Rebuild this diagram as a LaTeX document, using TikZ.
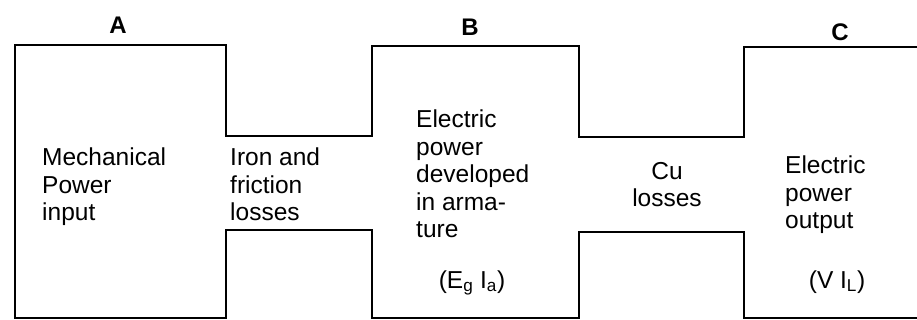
\documentclass[tikz,border=0pt]{standalone}
\usepackage{fontspec}
\setmainfont{Liberation Sans}
\begin{document}
\begin{tikzpicture}[x=1pt,y=-1pt,
  outline/.style={line width=2.8pt,line join=miter},
  blocktext/.style={anchor=north west,inner sep=0pt,align=left,font=\fontsize{24.5}{27.5}\selectfont},
  ctext/.style={anchor=north,inner sep=0pt,align=center,font=\fontsize{24.5}{27.5}\selectfont},
  letter/.style={inner sep=0pt,font=\fontsize{24}{28}\selectfont\bfseries}]
\useasboundingbox (0,0) rectangle (917,320);
\draw[outline] (917,47) -- (744,47) -- (744,137) -- (579,137) -- (579,46) -- (372,46)
  -- (372,136) -- (226,136) -- (226,45) -- (15,45) -- (15,318) -- (226,318)
  -- (226,230) -- (372,230) -- (372,318) -- (579,318) -- (579,232) -- (744,232)
  -- (744,318) -- (917,318);
\node[letter] (la) at (118,25) {A};
\node[letter] (lb) at (470,27) {B};
\node[letter] (lc) at (840,32) {C};
\node[blocktext] (mech) at (42,148) {Mechanical\\Power\\input};
\node[blocktext] (iron) at (230,148) {Iron and\\friction\\losses};
\node[blocktext] (elec) at (416,110) {Electric\\power\\developed\\in arma-\\ture};
\node[ctext] (cu) at (667,162) {Cu\\losses};
\node[blocktext] (out) at (785,156) {Electric\\power\\output};
\node[inner sep=0pt,anchor=base,font=\fontsize{24.5}{27.5}\selectfont] (egia) at (472,288) {(E\textsubscript{g} I\textsubscript{a})};
\node[inner sep=0pt,anchor=base,font=\fontsize{24.5}{27.5}\selectfont] (vil) at (837,288) {(V I\textsubscript{L})};
\end{tikzpicture}
\end{document}
